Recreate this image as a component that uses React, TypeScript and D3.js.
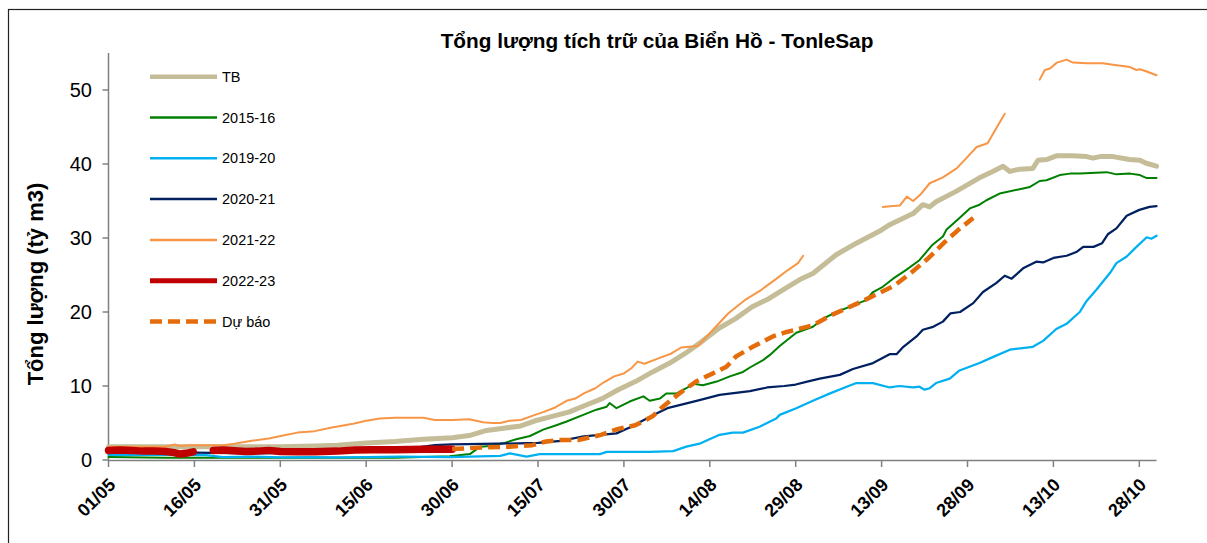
import React from "react";
import * as d3 from "d3";

type P = [number, number] | null;

// day offset from 01/05, value (tỷ m3)
const TB: P[] = [[0,1.8],[10,1.8],[20,1.8],[30,1.8],[36,1.9],[40,2.0],[45,2.3],[50,2.5],[55,2.8],[60,3.0],[63,3.3],[66,4.0],[69,4.3],[72,4.6],[74.5,5.3],[77.5,5.9],[80.5,6.5],[83.3,7.4],[86.2,8.3],[89,9.5],[92,10.6],[95,11.9],[98,13.1],[100.7,14.4],[103.6,16.0],[106.6,17.8],[109.5,19.1],[112.4,20.7],[115.3,21.8],[118.2,23.2],[121,24.5],[123,25.2],[127,27.7],[130.6,29.3],[134.6,30.9],[136.4,31.8],[140.5,33.3],[142.2,34.5],[143.4,34.2],[144.5,34.9],[148,36.3],[152,38.1],[154.4,39.0],[156.2,39.7],[157.4,39.0],[159.1,39.3],[161.4,39.4],[162.3,40.5],[163.8,40.6],[165.5,41.1],[168.4,41.1],[170.8,41.0],[171.9,40.8],[173.1,41.0],[175.4,41.0],[178.3,40.6],[180.1,40.5],[181.2,40.1],[183,39.7]];

const S2015: P[] = [[0,0.4],[10,0.3],[20,0.3],[30,0.3],[40,0.3],[50,0.3],[59.6,0.5],[63.1,0.8],[64.9,1.8],[66.6,1.9],[68.9,2.25],[71.2,2.8],[73.6,3.24],[75.9,4.1],[78.2,4.7],[80,5.2],[82.9,6.1],[85.2,6.8],[87,7.2],[87.5,7.7],[88.7,7.0],[91,7.9],[93.4,8.6],[94.5,8.0],[96.3,8.3],[97.4,9.0],[99.2,9.0],[100.9,9.7],[102.1,10.3],[103.8,10.1],[106.2,10.6],[108.5,11.3],[110.8,11.9],[112,12.5],[114.3,13.5],[115.5,14.2],[117.2,15.4],[120.1,17.2],[123,18.0],[124.8,19.1],[127.1,20.0],[129.4,20.7],[132.3,21.6],[133.5,22.7],[135.2,23.4],[137,24.5],[139.3,25.7],[141.6,27.0],[143.9,29.1],[145.7,30.2],[146.3,31.1],[148.6,32.7],[150.4,34.0],[152.1,34.5],[153.3,35.1],[155.6,36.0],[159.1,36.6],[160.9,36.9],[162.6,37.7],[163.8,37.8],[166.1,38.5],[167.9,38.7],[169.6,38.7],[174.3,38.9],[176,38.6],[178.4,38.7],[180.1,38.5],[181.3,38.1],[183,38.1]];

const S2019: P[] = [[0,0.7],[10,0.7],[17,0.65],[20,0.4],[25,0.45],[30,0.35],[35,0.4],[40,0.35],[45,0.4],[50.9,0.45],[59.6,0.4],[68.4,0.55],[70.1,0.9],[73,0.45],[75.3,0.8],[85.8,0.8],[87,1.1],[94.5,1.1],[98.6,1.2],[100.9,1.8],[103.2,2.2],[106.7,3.4],[109,3.7],[110.8,3.7],[113.7,4.5],[116.6,5.6],[117.2,6.1],[120.1,7.0],[123,8.0],[126,9.0],[128.9,9.9],[130.6,10.4],[133.5,10.4],[136.4,9.8],[138.1,10.0],[140.5,9.8],[141.6,9.9],[142.5,9.5],[143.4,9.7],[144.5,10.4],[146.9,11.0],[148.6,12.1],[152.1,13.1],[154.4,13.9],[157.4,14.9],[161.4,15.3],[163.2,16.1],[165.5,17.7],[167.3,18.4],[169.6,20.0],[170.8,21.5],[172.5,23.0],[174.9,25.3],[176,26.6],[177.8,27.5],[179.5,28.8],[181.3,30.1],[182.1,29.9],[183,30.3]];

const S2020: P[] = [[0,1.0],[15,1.0],[25,0.9],[35,1.0],[45,1.3],[50,1.5],[54,1.7],[57,2.0],[60,2.1],[68,2.2],[75,2.3],[79,2.6],[83,3.2],[88.7,3.6],[91,4.4],[93.5,5.4],[95.5,6.2],[97.6,7.0],[103.2,8.1],[106.7,8.8],[112,9.3],[115,9.8],[118,10.0],[120,10.2],[122,10.6],[124.2,11.0],[127.7,11.5],[130,12.3],[133.5,13.1],[136.4,14.3],[137.6,14.3],[138.8,15.3],[141.1,16.7],[142.2,17.6],[144,18.0],[145.7,18.7],[147,19.8],[148.7,20.0],[151,21.2],[152.7,22.7],[155,23.9],[156.5,24.9],[157.7,24.5],[159.7,25.9],[162,26.8],[163.2,26.7],[165,27.3],[167.3,27.6],[169,28.1],[170.2,28.8],[172,28.8],[173.5,29.3],[174.5,30.5],[176,31.3],[177.8,33.0],[180,33.8],[181.8,34.2],[183,34.3]];

const S2021: P[] = [[0,1.8],[5,1.8],[10,1.8],[11.5,2.1],[12.5,1.9],[14,2.0],[20,2.0],[22,2.2],[25,2.6],[28,2.9],[30.5,3.3],[33,3.7],[36,3.9],[39,4.4],[42.7,4.9],[45,5.3],[47.4,5.6],[50,5.7],[55,5.7],[57,5.4],[60,5.4],[63,5.5],[65.4,5.1],[67,5.0],[68.4,5.0],[70,5.3],[72,5.4],[74.1,6.0],[76,6.5],[78,7.1],[80,8.0],[81.5,8.3],[83,9.0],[85,9.7],[86.5,10.5],[88.3,11.3],[90,11.7],[91.3,12.4],[92.4,13.3],[93.6,13.0],[95.9,13.7],[98.3,14.4],[100,15.2],[102.9,15.4],[105.8,17.8],[108.2,19.8],[111.1,21.6],[114,23.0],[116.3,24.3],[118.7,25.7],[120.4,26.6],[121.3,27.6],
  null,
  [135.2,34.2],[136.5,34.3],[138.2,34.4],[139.4,35.6],[140.5,35.0],[141.7,35.8],[143.4,37.4],[145.7,38.2],[148.1,39.4],[149.8,40.8],[151.6,42.3],[153.5,42.8],[155,44.8],[156.5,46.8],
  null,
  [162.6,51.4],[163.5,52.7],[164.4,52.9],[165.6,53.7],[167.3,54.1],[168.4,53.7],[170.8,53.6],[173.6,53.6],[175.4,53.4],[178.4,53.1],[179.5,52.7],[180.1,52.8],[181.3,52.5],[183,52.0]];

const S2022: P[] = [[0,1.3],[2,1.35],[4,1.3],[6,1.2],[8,1.2],[10,1.15],[11.5,1.0],[12.5,0.8],[13.5,0.9],[14.8,1.1],
  null,
  [18.3,1.3],[20,1.35],[22,1.25],[24,1.15],[26,1.2],[28,1.3],[30,1.15],[33,1.1],[36,1.1],[40,1.2],[43,1.35],[46,1.4],[50,1.4],[55,1.45],[60,1.45]];

const FORECAST: P[] = [[60,1.5],[63,1.6],[66,1.7],[70,1.8],[74,2.0],[76.4,2.5],[79,2.7],[82,2.7],[86,3.4],[89,4.2],[92,4.7],[95,5.9],[96.8,7.2],[99.7,9.0],[102.6,10.6],[105.5,11.7],[107.9,12.6],[109.6,14.0],[112.5,15.3],[116,16.7],[118.4,17.3],[120,17.6],[123,18.2],[126,19.5],[128.6,20.4],[131.5,21.4],[134.4,22.5],[137.3,23.6],[140.3,25.4],[143.2,27.3],[146.1,29.5],[148.4,31.1],[151,32.7]];

const SERIES_NAMES = ["TB", "2015-16", "2019-20", "2020-21", "2021-22", "2022-23", "Dự báo"];
const SERIES_DATA = [TB, S2015, S2019, S2020, S2021, S2022, FORECAST];
const SERIES_COLORS = ["#C4BD97", "#008000", "#00B0F0", "#002060", "#F79646", "#C00000", "#E46C0A"];
const SERIES_WIDTHS = [5, 2, 2.25, 2.25, 2, 7.5, 4.5];
const LEGEND_WIDTHS = [4.5, 2.5, 2.5, 2.5, 2.5, 5, 4.5];
const SERIES_DASH = [null, null, null, null, null, null, "12,6"];

const Y_TICKS = [0, 10, 20, 30, 40, 50];
const X_TICK_DAYS = [0, 15, 30, 45, 60, 75, 90, 105, 120, 135, 150, 165, 180];

const TITLE = "Tổng lượng tích trữ của Biển Hồ - TonleSap";
const Y_LABEL = "Tổng lượng (tỷ m3)";

const START = Date.UTC(2022, 4, 1);
const toDate = (d: number) => new Date(START + d * 86400000);

export default function App() {
  const W = 1207, H = 543;
  const x = d3.scaleUtc().domain([toDate(0), toDate(183)]).range([108.5, 1156.5]);
  const y = d3.scaleLinear().domain([0, 55]).range([460, 53]);
  const fmt = d3.utcFormat("%d/%m");
  const line = d3.line<P>()
    .defined((p) => p !== null)
    .x((p) => x(toDate((p as [number, number])[0])))
    .y((p) => y((p as [number, number])[1]));
  const font = "'Liberation Sans', Arial, sans-serif";
  const legendY0 = 76.7, legendStep = 40.8;

  return (
    <svg width={W} height={H} style={{ position: "fixed", left: 0, top: 0, background: "#fff" }} fontFamily={font}>
      <rect x={8.5} y={9.5} width={1400} height={800} fill="#fff" stroke="#222" strokeWidth={1.2} />
      <text x={657} y={48} textAnchor="middle" fontSize={20.8} fontWeight="bold">{TITLE}</text>
      <text transform={`translate(43,284) rotate(-90)`} textAnchor="middle" fontSize={22} fontWeight="bold">{Y_LABEL}</text>

      {/* axes */}
      <line x1={108.5} x2={108.5} y1={53} y2={461} stroke="#808080" strokeWidth={1.5} />
      <line x1={108.5} x2={1156.5} y1={460.5} y2={460.5} stroke="#808080" strokeWidth={1.5} />
      {Y_TICKS.map((t) => (
        <g key={t}>
          <line x1={102.5} x2={108.5} y1={y(t)} y2={y(t)} stroke="#808080" strokeWidth={1.5} />
          <text x={92} y={y(t) + 7} textAnchor="end" fontSize={20}>{t}</text>
        </g>
      ))}
      {X_TICK_DAYS.map((d) => {
        const xx = x(toDate(d));
        return (
          <g key={d}>
            <line x1={xx} x2={xx} y1={460.5} y2={467} stroke="#808080" strokeWidth={1.5} />
            <text transform={`translate(${xx + 8},${486}) rotate(-45)`} textAnchor="end" fontSize={18} fontWeight="bold">{fmt(toDate(d))}</text>
          </g>
        );
      })}

      {/* series */}
      {SERIES_DATA.map((data, i) => (
        <path key={SERIES_NAMES[i]} d={line(data) || ""} fill="none" stroke={SERIES_COLORS[i]}
          strokeWidth={SERIES_WIDTHS[i]} strokeDasharray={SERIES_DASH[i] || undefined}
          strokeLinejoin="round" strokeLinecap={SERIES_DASH[i] ? "butt" : "round"} />
      ))}

      {/* legend */}
      {SERIES_NAMES.map((n, i) => {
        const ly = legendY0 + i * legendStep;
        return (
          <g key={n}>
            <line x1={150} x2={217} y1={ly} y2={ly} stroke={SERIES_COLORS[i]}
              strokeWidth={LEGEND_WIDTHS[i]} strokeDasharray={SERIES_DASH[i] || undefined} />
            <text x={222} y={ly + 5} fontSize={14.5}>{n}</text>
          </g>
        );
      })}
    </svg>
  );
}
